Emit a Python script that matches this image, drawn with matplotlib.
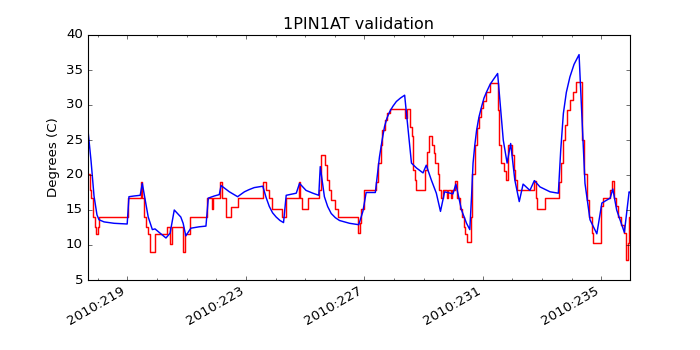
import numpy as np
import matplotlib
matplotlib.use('Agg')
import matplotlib.pyplot as plt
from matplotlib.ticker import FixedLocator, MultipleLocator

# day of year 2010, model (blue) and telemetry (red)
blue_day = [217.65, 217.77, 217.87, 217.97, 218.04, 218.21, 218.55, 218.99, 219.05, 219.22,
            219.43, 219.50, 219.60, 219.70, 219.84, 219.93, 220.07, 220.30, 220.44, 220.58,
            220.80, 220.88, 220.97, 221.14, 221.42, 221.65, 221.73, 221.93, 222.10, 222.16,
            222.44, 222.72, 222.85, 222.95, 223.10, 223.28, 223.57, 223.68, 223.79, 223.90,
            224.02, 224.15, 224.27, 224.36, 224.70, 224.81, 225.03, 225.26, 225.46, 225.51,
            225.65, 225.76, 225.88, 226.02, 226.16, 226.50, 226.81, 226.95, 227.06, 227.37,
            227.51, 227.60, 227.68, 227.76, 227.85, 227.96, 228.08, 228.22, 228.36, 228.59,
            228.76, 228.98, 229.09, 229.26, 229.43, 229.57, 229.71, 229.99, 230.09, 230.28,
            230.45, 230.56, 230.62, 230.67, 230.73, 230.79, 230.87, 230.96, 231.04, 231.13,
            231.24, 231.35, 231.50, 231.69, 231.82, 231.94, 232.08, 232.23, 232.36, 232.59,
            232.74, 232.93, 233.27, 233.55, 233.63, 233.72, 233.82, 233.94, 234.08, 234.25,
            234.45, 234.62, 234.85, 235.02, 235.30, 235.39, 235.52, 235.78, 235.94, 235.97]
blue_temp = [27.1, 22.0, 17.0, 14.3, 13.6, 13.3, 13.1, 13.0, 16.9, 17.0,
             17.1, 18.8, 16.4, 14.0, 12.2, 12.3, 11.8, 11.0, 11.7, 15.0,
             14.0, 13.1, 11.3, 12.4, 12.6, 12.7, 16.7, 17.0, 17.2, 18.5,
             17.6, 16.9, 17.3, 17.6, 17.9, 18.2, 18.4, 16.8, 15.5, 14.6,
             14.0, 13.5, 13.2, 17.1, 17.4, 18.8, 17.8, 17.4, 17.1, 21.2,
             16.9, 15.5, 14.5, 13.9, 13.5, 13.1, 12.9, 14.8, 17.5, 17.5,
             22.6, 25.0, 26.9, 28.1, 29.0, 29.8, 30.5, 31.0, 31.4, 21.7,
             21.0, 20.3, 21.4, 19.3, 17.4, 14.8, 17.6, 17.3, 18.7, 15.0,
             13.1, 12.2, 17.0, 21.7, 24.3, 26.4, 28.3, 29.8, 31.0, 31.9,
             32.9, 33.6, 34.5, 25.0, 21.7, 24.5, 19.3, 16.2, 18.7, 17.8,
             19.2, 18.3, 17.6, 17.4, 23.5, 28.8, 31.8, 34.0, 35.8, 37.2,
             18.8, 13.6, 11.6, 16.0, 16.7, 18.0, 15.0, 11.8, 17.6, 17.5]

red_day = [217.65, 217.72, 217.78, 217.84, 217.90, 217.95, 217.99, 218.05, 219.02, 219.45,
           219.50, 219.57, 219.62, 219.69, 219.75, 219.92, 220.35, 220.45, 220.49, 220.88,
           220.93, 221.12, 221.68, 221.86, 221.89, 222.14, 222.20, 222.33, 222.50, 222.72,
           223.57, 223.68, 223.77, 223.88, 224.22, 224.34, 224.78, 224.84, 224.90, 225.11,
           225.47, 225.52, 225.67, 225.73, 225.79, 225.88, 226.00, 226.12, 226.80, 226.85,
           226.90, 226.98, 227.40, 227.47, 227.55, 227.61, 227.70, 227.78, 227.86, 228.37,
           228.43, 228.53, 228.60, 228.65, 228.70, 228.75, 229.05, 229.12, 229.19, 229.28,
           229.34, 229.40, 229.47, 229.53, 229.58, 229.64, 229.80, 229.84, 229.92, 229.97,
           230.06, 230.14, 230.24, 230.29, 230.35, 230.41, 230.45, 230.59, 230.64, 230.72,
           230.79, 230.86, 230.93, 230.99, 231.12, 231.25, 231.51, 231.56, 231.62, 231.70,
           231.78, 231.86, 231.99, 232.04, 232.10, 232.16, 232.73, 232.78, 232.84, 233.10,
           233.58, 233.63, 233.70, 233.78, 233.85, 233.94, 234.04, 234.14, 234.34, 234.42,
           234.51, 234.60, 234.68, 234.73, 234.99, 235.07, 235.30, 235.35, 235.43, 235.50,
           235.58, 235.66, 235.78, 235.84, 235.89, 235.95, 235.97]
red_temp = [20.2, 17.9, 16.7, 14.0, 12.6, 11.6, 12.6, 14.0, 16.7, 19.0,
            16.7, 14.0, 12.6, 11.6, 9.0, 11.6, 12.6, 10.2, 12.6, 9.0,
            11.6, 14.0, 16.7, 15.2, 16.7, 19.0, 16.7, 14.0, 15.4, 16.7,
            19.0, 17.9, 16.7, 15.2, 14.0, 16.7, 19.0, 16.7, 15.2, 16.7,
            17.9, 22.9, 21.4, 19.3, 17.9, 16.4, 15.2, 14.0, 11.7, 13.1,
            15.2, 17.9, 19.0, 21.7, 24.3, 26.4, 27.9, 28.8, 29.4, 28.1,
            29.4, 26.9, 25.5, 20.7, 19.3, 17.9, 20.7, 23.3, 25.5, 24.3,
            23.1, 21.7, 20.2, 17.9, 16.7, 17.9, 16.7, 17.9, 16.7, 17.9,
            19.2, 16.7, 15.2, 14.0, 12.6, 11.6, 10.4, 14.0, 20.2, 24.3,
            26.7, 28.3, 29.5, 30.6, 31.9, 33.1, 29.3, 24.3, 21.7, 20.5,
            19.3, 24.3, 22.9, 20.7, 19.3, 17.9, 19.2, 16.7, 15.2, 16.7,
            19.0, 21.7, 25.0, 27.1, 29.3, 30.7, 31.9, 33.3, 25.0, 20.2,
            16.4, 14.0, 11.7, 10.3, 15.5, 16.7, 17.9, 19.2, 16.7, 15.5,
            14.0, 12.9, 11.7, 7.9, 10.3, 14.0, 14.0]

tick_days = [219, 223, 227, 231, 235]
tick_labels = ['2010:219', '2010:223', '2010:227', '2010:231', '2010:235']

plt.style.use('classic')

fig = plt.figure(figsize=(8.75, 4.375), facecolor='white')
ax = fig.add_subplot(111)
ax.plot(red_day, red_temp, 'r-', drawstyle='steps-post', lw=1.3)
ax.plot(blue_day, blue_temp, 'b-', lw=1.3)
ax.set_xlim(blue_day[0], blue_day[-1])
ax.set_ylim(5, 40)
ax.xaxis.set_major_locator(FixedLocator(tick_days))
ax.set_xticklabels(tick_labels)
ax.xaxis.set_minor_locator(MultipleLocator(1))
ax.set_ylabel('Degrees (C)')
ax.set_title('1PIN1AT validation')
fig.autofmt_xdate()
fig.savefig('out.png', dpi=80, facecolor='white')
